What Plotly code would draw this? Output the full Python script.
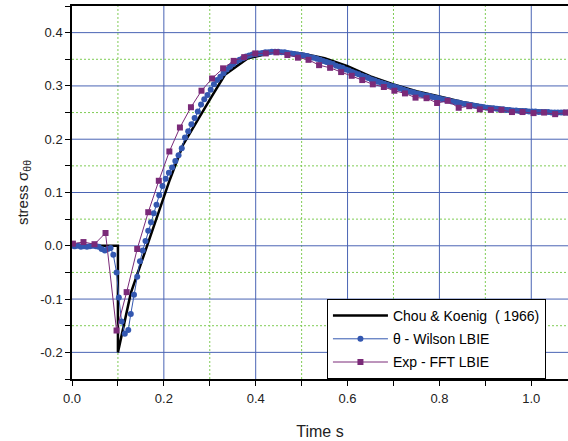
import plotly.graph_objects as go

# Chou & Koenig (1966) reference curve
chou_t = [0.0, 0.1, 0.1, 0.128, 0.213, 0.242, 0.304, 0.333, 0.383, 0.45, 0.5, 0.55,
          0.6, 0.65, 0.7, 0.75, 0.8, 0.85, 0.9, 0.95, 1.0, 1.08]
chou_s = [0.0, 0.0, -0.2, -0.089, 0.124, 0.19, 0.28, 0.321, 0.352, 0.365, 0.361, 0.352,
          0.337, 0.318, 0.303, 0.29, 0.28, 0.27, 0.262, 0.257, 0.254, 0.251]

# theta - Wilson LBIE
wilson_t = [0.0, 0.0065, 0.013, 0.0195, 0.026, 0.0325, 0.039, 0.0455, 0.052, 0.058,
            0.0645, 0.0715, 0.078, 0.084, 0.090, 0.097, 0.102, 0.108, 0.115, 0.1225,
            0.128, 0.135, 0.142, 0.148, 0.154, 0.160, 0.166, 0.172, 0.178, 0.184,
            0.190, 0.197, 0.204, 0.211, 0.218, 0.225, 0.232, 0.239, 0.246, 0.253,
            0.260, 0.267, 0.274, 0.281, 0.288, 0.295, 0.302, 0.309, 0.316, 0.323,
            0.330, 0.337, 0.344, 0.351, 0.358, 0.365, 0.372, 0.379, 0.386, 0.393,
            0.400, 0.407, 0.414, 0.421, 0.428, 0.435, 0.442, 0.449, 0.456, 0.463,
            0.470, 0.477, 0.484, 0.491, 0.498, 0.505, 0.512, 0.519, 0.526, 0.533,
            0.540, 0.547, 0.554, 0.561, 0.568, 0.575, 0.582, 0.589, 0.596, 0.603,
            0.610, 0.617, 0.624, 0.631, 0.638, 0.645, 0.652, 0.659, 0.666, 0.673,
            0.680, 0.687, 0.694, 0.701, 0.708, 0.715, 0.722, 0.729, 0.736, 0.743,
            0.750, 0.757, 0.764, 0.771, 0.778, 0.785, 0.792, 0.799, 0.806, 0.813,
            0.820, 0.827, 0.834, 0.841, 0.848, 0.855, 0.862, 0.869, 0.876, 0.883,
            0.890, 0.897, 0.904, 0.911, 0.918, 0.925, 0.932, 0.939, 0.946, 0.953,
            0.960, 0.967, 0.974, 0.981, 0.988, 0.995, 1.002, 1.009, 1.016, 1.023,
            1.030, 1.037, 1.044, 1.051, 1.058, 1.065, 1.072, 1.079]
wilson_s = [0.0, -0.001, 0.0, -0.002, -0.001, -0.002, -0.001, 0.0, -0.001, -0.002,
            -0.006, -0.009, -0.006, -0.004, -0.017, -0.05, -0.097, -0.142, -0.165, -0.158,
            -0.128, -0.092, -0.058, -0.029, -0.009, 0.009, 0.028, 0.044, 0.061, 0.077,
            0.095, 0.112, 0.126, 0.137, 0.147, 0.159, 0.170, 0.183, 0.203, 0.215,
            0.228, 0.240, 0.252, 0.265, 0.275, 0.283, 0.293, 0.303, 0.311, 0.317,
            0.324, 0.331, 0.336, 0.341, 0.346, 0.349, 0.352, 0.355, 0.357, 0.359,
            0.360, 0.361, 0.362, 0.363, 0.363, 0.364, 0.364, 0.364, 0.363, 0.363,
            0.362, 0.361, 0.360, 0.359, 0.358, 0.357, 0.356, 0.354, 0.353, 0.351,
            0.349, 0.347, 0.345, 0.343, 0.341, 0.338, 0.336, 0.334, 0.331, 0.329,
            0.326, 0.324, 0.322, 0.319, 0.317, 0.315, 0.312, 0.310, 0.308, 0.306,
            0.304, 0.302, 0.300, 0.299, 0.297, 0.295, 0.293, 0.291, 0.289, 0.288,
            0.286, 0.285, 0.283, 0.282, 0.281, 0.279, 0.278, 0.277, 0.275, 0.274,
            0.273, 0.271, 0.270, 0.269, 0.267, 0.266, 0.265, 0.264, 0.263, 0.262,
            0.261, 0.260, 0.259, 0.258, 0.258, 0.257, 0.256, 0.256, 0.255, 0.255,
            0.254, 0.254, 0.253, 0.253, 0.253, 0.252, 0.252, 0.252, 0.251, 0.251,
            0.251, 0.251, 0.250, 0.250, 0.250, 0.250, 0.250, 0.250]

# Exp - FFT LBIE
fft_t = [0.002, 0.025, 0.049, 0.073, 0.097, 0.119, 0.142, 0.166, 0.189, 0.212,
         0.235, 0.259, 0.282, 0.305, 0.329, 0.352, 0.375, 0.399, 0.422, 0.445,
         0.469, 0.492, 0.515, 0.538, 0.562, 0.586, 0.609, 0.632, 0.655, 0.679,
         0.702, 0.725, 0.748, 0.772, 0.795, 0.818, 0.842, 0.865, 0.888, 0.912,
         0.935, 0.958, 0.981, 1.005, 1.028, 1.052, 1.075]
fft_s = [0.004, 0.007, 0.003, 0.024, -0.159, -0.087, -0.006, 0.063, 0.122, 0.177,
         0.222, 0.260, 0.291, 0.314, 0.333, 0.347, 0.354, 0.361, 0.361, 0.363,
         0.358, 0.353, 0.349, 0.339, 0.334, 0.326, 0.319, 0.311, 0.303, 0.298,
         0.291, 0.286, 0.278, 0.277, 0.268, 0.272, 0.259, 0.262, 0.256, 0.255,
         0.255, 0.251, 0.251, 0.249, 0.250, 0.247, 0.250]

# axis ticks: major (labelled) and minor (between)
x_ticks = [0.0, 0.2, 0.4, 0.6, 0.8, 1.0]
x_labels = ["0.0", "0.2", "0.4", "0.6", "0.8", "1.0"]
x_minor = [0.1, 0.3, 0.5, 0.7, 0.9]
y_ticks = [-0.2, -0.1, 0.0, 0.1, 0.2, 0.3, 0.4]
y_labels = ["-0.2", "-0.1", "0.0", "0.1", "0.2", "0.3", "0.4"]
y_minor = [-0.25, -0.15, -0.05, 0.05, 0.15, 0.25, 0.35, 0.45]

FONT = "Arial, Liberation Sans, sans-serif"
GRID_BLUE = "#4a64b4"
GRID_GREEN = "#7fcc55"
BLUE = "#3357b0"
PURPLE = "#7a2a78"

fig = go.Figure()
fig.add_trace(go.Scatter(x=chou_t, y=chou_s, mode="lines", name="Chou & Koenig  ( 1966)",
                         legendgroup="a", line=dict(color="black", width=2.5)))
fig.add_trace(go.Scatter(x=wilson_t, y=wilson_s, mode="lines+markers", name="θ - Wilson LBIE",
                         legendgroup="b", line=dict(color=BLUE, width=1),
                         marker=dict(symbol="circle", size=6, color=BLUE)))
fig.add_trace(go.Scatter(x=fft_t, y=fft_s, mode="lines+markers", name="Exp - FFT LBIE",
                         legendgroup="c", line=dict(color=PURPLE, width=1),
                         marker=dict(symbol="square", size=6, color=PURPLE)))

# grid lines drawn as shapes beneath the traces (blue at labelled ticks, green dots between)
major_line = dict(color=GRID_BLUE, width=1)
minor_line = dict(color=GRID_GREEN, width=1, dash="2px,2px")
for v in x_ticks[1:]:
    fig.add_shape(type="line", xref="x", yref="paper", x0=v, x1=v, y0=0, y1=1,
                  layer="below", line=major_line)
for v in x_minor:
    fig.add_shape(type="line", xref="x", yref="paper", x0=v, x1=v, y0=0, y1=1,
                  layer="below", line=minor_line)
for v in y_ticks:
    fig.add_shape(type="line", xref="paper", yref="y", x0=0, x1=1, y0=v, y1=v,
                  layer="below", line=major_line)
for v in y_minor[1:-1]:
    fig.add_shape(type="line", xref="paper", yref="y", x0=0, x1=1, y0=v, y1=v,
                  layer="below", line=minor_line)

axis_common = dict(
    showline=True, linecolor="black", linewidth=1.5,
    ticks="outside", ticklen=5, tickwidth=1.2, tickcolor="black",
    zeroline=False, showgrid=False,
    tickfont=dict(family=FONT, size=13, color="#222"),
)
minor_common = dict(tickmode="array", ticks="outside", ticklen=5, tickcolor="black",
                    showgrid=False)

fig.update_xaxes(
    range=[0, 1.08], tickvals=x_ticks, ticktext=x_labels, mirror=True,
    minor=dict(tickvals=x_minor, **minor_common),
    title=dict(text="Time s", font=dict(family=FONT, size=16, color="#222"), standoff=20),
    ticklabelstandoff=2,
    **axis_common,
)
fig.update_yaxes(
    range=[-0.25, 0.45], tickvals=y_ticks, ticktext=y_labels,
    minor=dict(tickvals=y_minor, **minor_common),
    title=dict(text="stress σ<sub>θθ</sub>", font=dict(family=FONT, size=15, color="#222"),
               standoff=8),
    **axis_common,
)

fig.update_layout(
    width=568, height=441,
    margin=dict(l=72, r=0, t=6, b=62, autoexpand=False),
    paper_bgcolor="white", plot_bgcolor="white",
    font=dict(family=FONT, color="#222"),
    legend=dict(x=0.514, y=0, xanchor="left", yanchor="bottom",
                bgcolor="white", bordercolor="black", borderwidth=1,
                font=dict(family=FONT, size=14, color="black"),
                itemwidth=55, tracegroupgap=2),
    showlegend=True,
)

# drop the default page margin so the figure sits at the window's top-left corner
fig.write_html("out.html", config={"displayModeBar": False},
               post_script="document.body.style.margin='0';document.body.style.overflow='hidden';")
